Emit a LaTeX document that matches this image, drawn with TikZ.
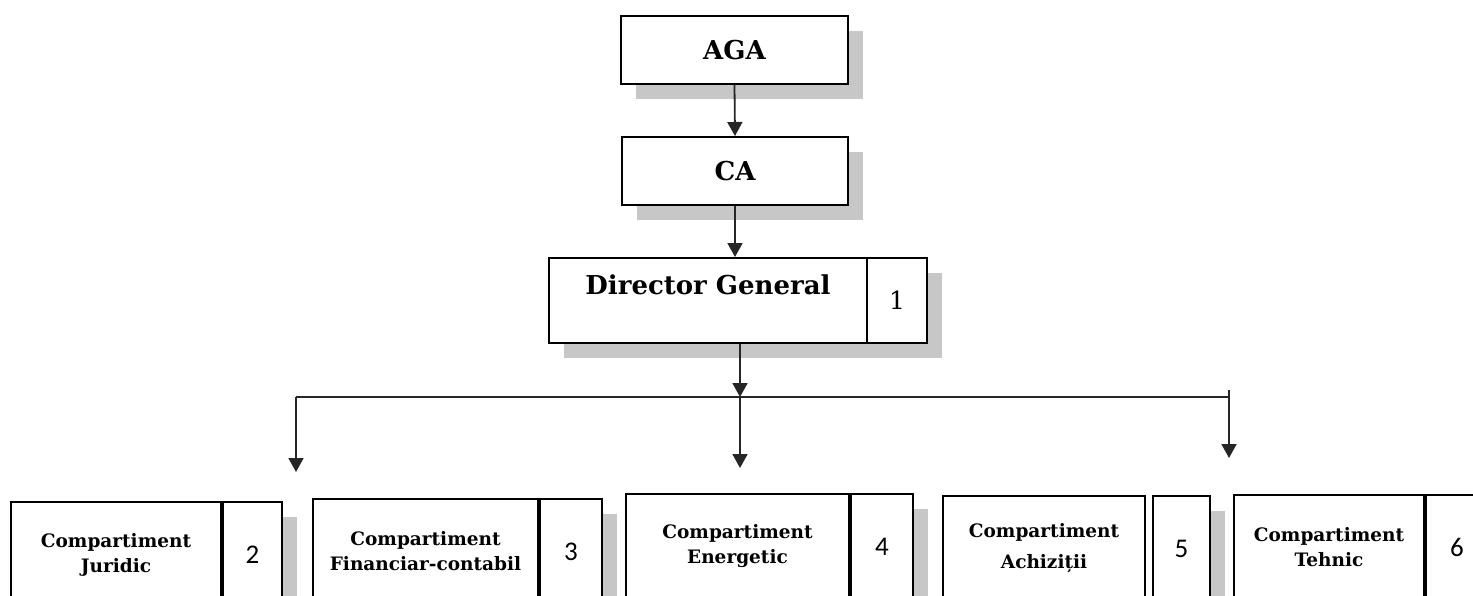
\documentclass[tikz,border=0pt]{standalone}
\usepackage{fontspec}
\setmainfont{DejaVu Serif}
\newfontfamily\numfont{Carlito}
\usetikzlibrary{arrows.meta,calc,positioning,shadows}

\tikzset{
	plainbox/.style={draw, line width=2pt, fill=white, inner sep=0pt, align=center},
	box/.style={plainbox,
		drop shadow={shadow xshift=15pt, shadow yshift=-15pt, fill=black!22, opacity=1}},
	topbox/.style={box, anchor=north west, font=\bfseries\fontsize{26}{30}\selectfont},
	unitbox/.style={plainbox, anchor=north west, minimum height=105pt, font=\bfseries\fontsize{18.5}{25}\selectfont},
	numcell/.style={box, font=\numfont\fontsize{27}{30}\selectfont},
	arr/.style={line width=1.8pt, draw=black!85, -{Triangle[width=15pt,length=14pt]}}
}

\begin{document}
\begin{tikzpicture}[x=1pt, y=-1pt]
		%%%%% START %%%%%
		\useasboundingbox (0,0) rectangle (1473,595);
		\clip (0,0) rectangle (1473,595);
		
		% top of the chart
		\node[topbox, minimum width=227pt, minimum height=68pt] (aga) at (620,15) {AGA};
		\node[topbox, minimum width=226pt, minimum height=68pt] (ca) at (621,136) {CA};
		\node[topbox, minimum width=318pt, minimum height=85pt, text depth=32pt] (dg) at (548,257) {Director General};
		\node[numcell, minimum width=60pt, minimum height=85pt, right=-2pt of dg, font=\fontsize{25}{28}\selectfont] (dgn) {1};
		
		\draw[arr] (aga.south) -- (ca.north);
		\draw[arr] (ca.south) -- (ca.south |- dg.north);
		
		% the bus
		\coordinate (bus) at (740,397);
		\coordinate (busl) at (296,397);
		\coordinate (busr) at (1229,397);
		\coordinate (tipl) at (296,472);
		\coordinate (tipm) at (740,468);
		\coordinate (tipr) at (1229,458);
		
		\draw[arr] (dg.south -| bus) -- (bus);
		\draw[line width=1.8pt, draw=black!85] (busl) -- (busr);
		\draw[arr] (busl) -- (tipl);
		\draw[arr] (bus) -- (tipm);
		\draw[arr] ($(busr)+(0,-7)$) -- (tipr);
		
		% compartments
		\node[unitbox, minimum width=210pt] (jur) at (10,501) {Compartiment\\Juridic};
		\node[numcell, minimum width=59pt, minimum height=105pt, right=0pt of jur] (jurn) {2};
		
		\node[unitbox, minimum width=225pt] (fin) at (312,498) {Compartiment\\Financiar-contabil};
		\node[numcell, minimum width=62pt, minimum height=105pt, right=0pt of fin] (finn) {3};
		
		\node[unitbox, minimum width=223pt] (ene) at (625,493) {Compartiment\\Energetic};
		\node[numcell, minimum width=62pt, minimum height=105pt, right=0pt of ene] (enen) {4};
		
		\node[unitbox, minimum width=202pt, font=\bfseries\fontsize{18.5}{31}\selectfont] (ach) at (942,495) {Compartiment\\Achiziții};
		\node[numcell, minimum width=57pt, minimum height=105pt, right=6pt of ach] (achn) {5};
		
		\node[unitbox, minimum width=190pt] (teh) at (1233,494) {Compartiment\\Tehnic};
		\node[numcell, minimum width=62pt, minimum height=105pt, right=0pt of teh] (tehn) {6};
		
		%%%%% END %%%%%
\end{tikzpicture}
\end{document}
